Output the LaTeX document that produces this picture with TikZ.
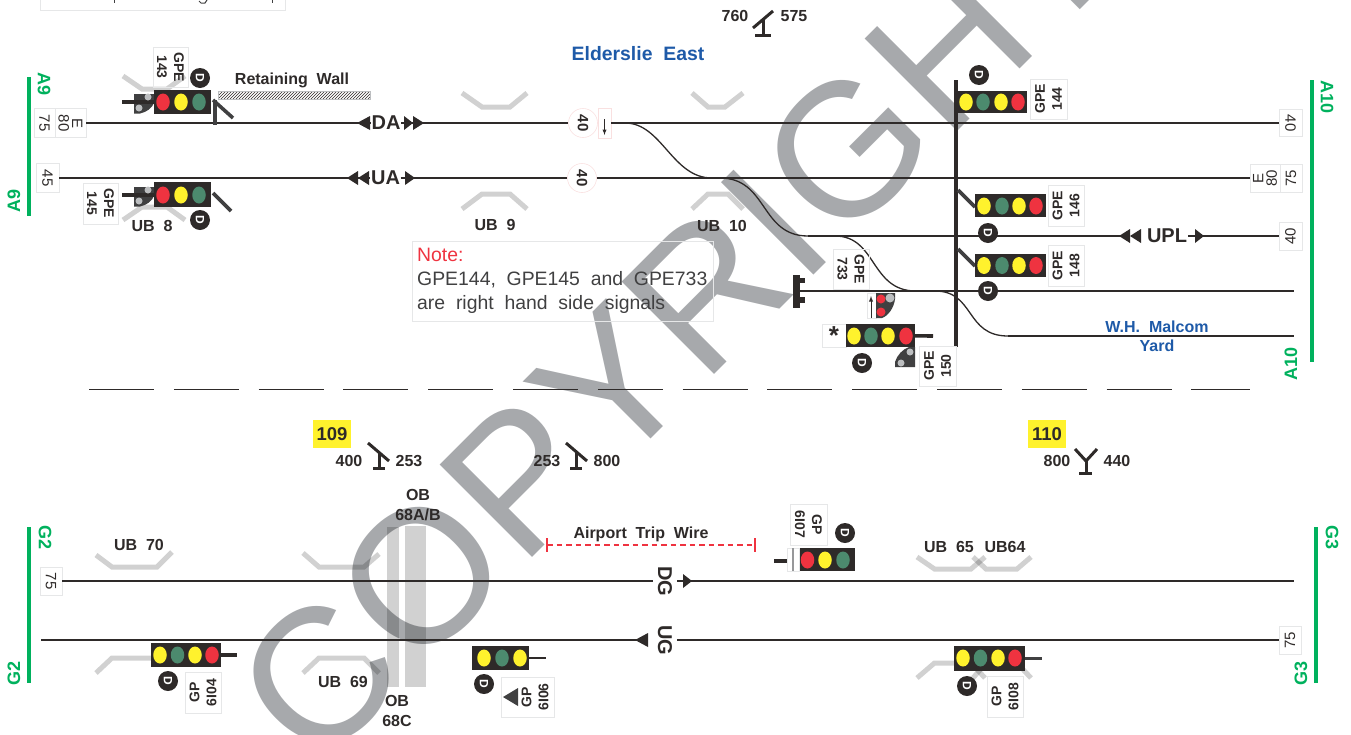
\documentclass[tikz,border=0pt]{standalone}
\usepackage{fontspec}
\setmainfont[WordSpace=2]{Liberation Sans}
\newfontfamily\wmfont[LetterSpace=1.1]{Liberation Sans}
\usetikzlibrary{shapes.geometric,patterns}
\definecolor{inkblk}{HTML}{2E2A29}
\definecolor{inkgrey}{HTML}{404041}
\definecolor{wmgrey}{HTML}{A7A9AC}
\definecolor{taggrey}{HTML}{E6E7E8}
\definecolor{dotgrey}{HTML}{BCBEC0}
\definecolor{kmgreen}{HTML}{00B15D}
\definecolor{kmblue}{HTML}{1E5AA8}
\definecolor{kmred}{HTML}{EF3340}
\definecolor{kmyellow}{HTML}{FFF22D}
\definecolor{kmlamp}{HTML}{4C8A6E}
\definecolor{kmpink}{HTML}{F9E0E0}
\begin{document}
\begin{tikzpicture}[x=1pt,y=-1pt,
	track/.style={draw=inkblk,line width=1.3pt},
	tag/.style={draw=taggrey,line width=0.8pt,inner sep=0pt,align=center,text=inkblk,font=\bfseries\fontsize{14}{17}\selectfont},
	numtag/.style={draw=taggrey,line width=0.8pt,inner sep=0pt,align=center,text=inkblk,font=\fontsize{15}{13.5}\selectfont},
	sighead/.style={fill=inkblk,inner sep=0pt},
	redlamp/.style={ellipse,fill=kmred,minimum width=13.5pt,minimum height=17pt,inner sep=0pt},
	yellamp/.style={ellipse,fill=kmyellow,minimum width=13.5pt,minimum height=17pt,inner sep=0pt},
	grnlamp/.style={ellipse,fill=kmlamp,minimum width=13.5pt,minimum height=17pt,inner sep=0pt},
	greydot/.style={circle,fill=dotgrey,minimum size=7pt,inner sep=0pt},
	reddot/.style={circle,fill=kmred,minimum size=9pt,inner sep=0pt},
	dcirc/.style={circle,fill=inkblk,text=white,minimum size=20pt,inner sep=0pt,rotate=-90,font=\bfseries\fontsize{12}{12}\selectfont},
	lbl/.style={inner sep=0pt,text=inkblk,font=\bfseries\fontsize{16}{20}\selectfont,align=center},
	biglbl/.style={inner sep=0pt,text=inkblk,font=\bfseries\fontsize{20}{20}\selectfont},
	grnlbl/.style={inner sep=0pt,text=kmgreen,font=\bfseries\fontsize{18}{18}\selectfont},
	bluelbl/.style={inner sep=0pt,text=kmblue,font=\bfseries\fontsize{16}{19}\selectfont,align=center},
	notetxt/.style={inner sep=0pt,anchor=west,text=inkgrey,font=\fontsize{19.4}{19.4}\selectfont},
	stub/.style={draw=inkblk,line width=3.6pt},
	post/.style={draw=inkgrey,line width=3.6pt},
	ubmark/.style={draw=black,draw opacity=0.18,line width=5pt},
	grad/.style={draw=inkblk,line width=3pt},
	limit/.style={draw=kmgreen,line width=3.8pt}]
	\useasboundingbox (0,0) rectangle (1351,734);

	\node (wm) at (676,321) [rotate=45,inner sep=0pt,text=wmgrey,font=\wmfont\fontsize{190}{190}\selectfont] {COPYRIGHT};

	\node (ob1) at (393,607) [fill=black,fill opacity=0.18,minimum width=12pt,minimum height=160pt,inner sep=0pt] {};
	\node (ob2) at (415.5,606.5) [fill=black,fill opacity=0.18,minimum width=21pt,minimum height=161pt,inner sep=0pt] {};

	\node (topbox) at (162.5,0) [draw=taggrey,line width=0.8pt,minimum width=245pt,minimum height=21pt,inner sep=0pt] {};
	\draw[inkgrey,line width=1pt] (114,0)--(114,3);
	\draw[inkgrey,line width=1pt] (272,0)--(272,3);
	\draw[inkgrey,line width=1pt] (199,1)--(201,3)--(205,3)--(207,0);

	\draw[limit] (29,77)--(29,216);
	\draw[limit] (1312,80)--(1312,362);
	\draw[limit] (29,527)--(29,683);
	\draw[limit] (1316,527)--(1316,683);
	\node (a9a) at (44,84) [grnlbl,rotate=-90] {A9};
	\node (a9b) at (14,201) [grnlbl,rotate=90] {A9};
	\node (a10a) at (1327,97) [grnlbl,rotate=-90] {A10};
	\node (a10b) at (1291,364) [grnlbl,rotate=90] {A10};
	\node (g2a) at (45,537) [grnlbl,rotate=-90] {G2};
	\node (g2b) at (14,673) [grnlbl,rotate=90] {G2};
	\node (g3a) at (1332,537) [grnlbl,rotate=-90] {G3};
	\node (g3b) at (1301,673) [grnlbl,rotate=90] {G3};

	\node (s75a) at (44.5,123) [numtag,rotate=-90,minimum width=29pt,minimum height=21pt] {75};
	\node (e80a) at (70.5,123) [numtag,rotate=-90,minimum width=29pt,minimum height=31pt] {E\\80};
	\node (s45) at (47.5,178) [numtag,rotate=-90,minimum width=29pt,minimum height=23pt] {45};
	\node (s40a) at (1290.5,123) [numtag,rotate=-90,minimum width=27pt,minimum height=23pt] {40};
	\node (e80b) at (1265,178) [numtag,rotate=90,minimum width=28pt,minimum height=30pt] {E\\80};
	\node (s75b) at (1291,178) [numtag,rotate=90,minimum width=28pt,minimum height=22pt] {75};
	\node (s40b) at (1290.5,236) [numtag,rotate=90,minimum width=28pt,minimum height=23pt] {40};
	\node (s75c) at (51,581) [numtag,rotate=-90,minimum width=28pt,minimum height=22pt] {75};
	\node (s75d) at (1290,640) [numtag,rotate=90,minimum width=28pt,minimum height=22pt] {75};

	\node (cir40a) at (583,123) [circle,draw=kmpink,line width=0.6pt,minimum size=29pt,inner sep=0pt,rotate=-90,text=inkblk,font=\bfseries\fontsize{15}{15}\selectfont] {40};
	\node (cir40b) at (582,178) [circle,draw=kmpink,line width=0.6pt,minimum size=29pt,inner sep=0pt,rotate=-90,text=inkblk,font=\bfseries\fontsize{15}{15}\selectfont] {40};
	\node (arrbox) at (604.5,123) [draw=kmpink,line width=0.6pt,minimum width=13pt,minimum height=30pt,inner sep=0pt] {};
	\draw[inkblk,line width=0.9pt,-latex] (604.5,119)--(604.5,135);

	\node (da) at (386,123) [biglbl,minimum width=30pt] {DA};
	\node (ua) at (385.5,178) [biglbl,minimum width=30pt] {UA};
	\node (upl) at (1167,236) [biglbl,minimum width=42pt] {UPL};
	\node (dg) at (665,581) [biglbl,rotate=-90,minimum height=24pt] {DG};
	\node (ug) at (665,640) [biglbl,rotate=-90,minimum height=24pt] {UG};
	\coordinate (uplw) at (1125,236);
	\coordinate (sp1) at (808,236);
	\coordinate (buf) at (800,291);
	\coordinate (end291) at (1294,291);
	\coordinate (yd) at (1008,336);
	\coordinate (end336) at (1294,336);
	\coordinate (dgr) at (692,581);
	\coordinate (end581) at (1294,581);
	\coordinate (ugw) at (41,640);
	\coordinate (ugm) at (640,640);
	\coordinate (x1a) at (625,123);
	\coordinate (x1b) at (712,178);
	\coordinate (x2a) at (720,178);
	\coordinate (x3a) at (835,236);
	\coordinate (x3b) at (916,291);
	\coordinate (x4a) at (935,291);

	\draw[track] (e80a)--(da);
	\draw[track] (da)--(cir40a);
	\draw[track] (arrbox)--(s40a);
	\draw[track] (s45)--(ua);
	\draw[track] (ua)--(cir40b);
	\draw[track] (cir40b)--(e80b);
	\draw[track] (sp1)--(uplw);
	\draw[track] (upl)--(s40b);
	\draw[track] (buf)--(end291);
	\draw[track] (yd)--(end336);
	\draw[track] (s75c)--(dg);
	\draw[track] (dg)--(dgr);
	\draw[track] (dgr)--(end581);
	\draw[track] (ugw)--(ugm);
	\draw[track] (ug)--(s75d);
	\draw[track] (x1a) .. controls (662,123) and (672,178) .. (x1b);
	\draw[track] (x2a) .. controls (768,178) and (760,236) .. (sp1);
	\draw[track] (x3a) .. controls (877,236) and (870,291) .. (x3b);
	\draw[track] (x4a) .. controls (975,291) and (965,336) .. (yd);

	\fill[inkblk] (370,116)--(357,123)--(370,130)--cycle;
	\fill[inkblk] (404,116)--(413,123)--(404,130)--cycle;
	\fill[inkblk] (413,116)--(424,123)--(413,130)--cycle;
	\fill[inkblk] (358,171)--(347,178)--(358,185)--cycle;
	\fill[inkblk] (369,171)--(358,178)--(369,185)--cycle;
	\fill[inkblk] (405,171)--(415,178)--(405,185)--cycle;
	\fill[inkblk] (1130,229)--(1119,236)--(1130,243)--cycle;
	\fill[inkblk] (1141,229)--(1130,236)--(1141,243)--cycle;
	\fill[inkblk] (1195,229)--(1204,236)--(1195,243)--cycle;
	\fill[inkblk] (683,574)--(692,581)--(683,588)--cycle;
	\fill[inkblk] (648,633)--(635,640)--(648,647)--cycle;

	\draw[ubmark] (123,76)--(142,89)--(167,89)--(185,76);
	\draw[ubmark] (123,220)--(142,207)--(167,207)--(185,220);
	\draw[ubmark] (462,93)--(482,107)--(510,107)--(527,93);
	\draw[ubmark] (462,209)--(482,194)--(510,194)--(527,209);
	\draw[ubmark] (692,93)--(708,107)--(725,107)--(743,93);
	\draw[ubmark] (692,209)--(708,194)--(728,194)--(743,209);
	\draw[ubmark] (96,555)--(112,567)--(157,567)--(172,552);
	\draw[ubmark] (303,553)--(319,567)--(364,567)--(379,554);
	\draw[ubmark] (96,673)--(112,658)--(157,658);
	\draw[ubmark] (303,673)--(319,658)--(364,658)--(379,673);
	\draw[ubmark] (917,557)--(934.5,569)--(971,569)--(985,557);
	\draw[ubmark] (973,557)--(986,569)--(1017,569)--(1031,557);
	\draw[ubmark] (917,678)--(934.5,663)--(971,663)--(985,678);
	\draw[ubmark] (973,678)--(986,663)--(1017,663)--(1031,678);

	\node (ub8) at (152,226) [lbl] {UB 8};
	\node (ub9) at (495,225) [lbl] {UB 9};
	\node (ub10) at (722,226) [lbl] {UB 10};
	\node (ub70) at (139,545) [lbl] {UB 70};
	\node (ub69) at (343,682) [lbl] {UB 69};
	\node (ub65) at (949,547) [lbl] {UB 65};
	\node (ub64) at (1005,547) [lbl] {UB64};
	\node (oba) at (418,505) [lbl] {OB\\68A/B};
	\node (obc) at (397,711) [lbl] {OB\\68C};
	\node (wall) at (292,80) [lbl] {Retaining Wall};
	\node (trip) at (641,534) [lbl] {Airport Trip Wire};
	\node (elder) at (638,54) [bluelbl,font=\bfseries\fontsize{19.4}{19.4}\selectfont] {Elderslie East};
	\node (yard) at (1157,336.5) [bluelbl] {W.H. Malcom\\Yard};

	\node (hatch) at (294,95) [draw=dotgrey,line width=0.8pt,pattern=north east lines,pattern color=inkblk,minimum width=152pt,minimum height=8pt,inner sep=0pt] {};

	\coordinate (tw1) at (547,545);
	\coordinate (tw2) at (755,545);
	\draw[kmred,line width=1.4pt,dash pattern=on 5.5pt off 4pt] (tw1)--(tw2);
	\draw[kmred,line width=2.2pt] (547,538)--(547,552);
	\draw[kmred,line width=2.2pt] (755,538)--(755,552);

	\coordinate (dv1) at (89,389.5);
	\coordinate (dv2) at (1250,389.5);
	\draw[inkblk,line width=1.2pt,dash pattern=on 65pt off 19.8pt] (dv1)--(dv2);

	\node (y109) at (332,434) [fill=kmyellow,minimum width=38pt,minimum height=28pt,inner sep=0pt,font=\bfseries\fontsize{18.5}{18.5}\selectfont,text=inkblk] {109};
	\node (y110) at (1047,434) [fill=kmyellow,minimum width=38pt,minimum height=28pt,inner sep=0pt,font=\bfseries\fontsize{18.5}{18.5}\selectfont,text=inkblk] {110};
	\node (k760) at (735,16) [lbl] {760};
	\node (k575) at (794,16) [lbl] {575};
	\node (k400) at (349,461) [lbl] {400};
	\node (k253a) at (409,461) [lbl] {253};
	\node (k253b) at (547,461) [lbl] {253};
	\node (k800a) at (607,461) [lbl] {800};
	\node (k800b) at (1057,461) [lbl] {800};
	\node (k440) at (1117,461) [lbl] {440};
	\draw[grad] (753,28)--(773,11);
	\draw[grad] (763,20)--(763,35);
	\draw[grad] (755,35)--(771,35);
	\draw[grad] (368,443)--(389,461);
	\draw[grad] (379,452)--(379,468);
	\draw[grad] (373,468)--(385,468);
	\draw[grad] (566,443)--(587,461);
	\draw[grad] (576,452)--(576,468);
	\draw[grad] (570,468)--(582,468);
	\draw[grad] (1075,449)--(1086,461)--(1097,449);
	\draw[grad] (1086,461)--(1086,473);
	\draw[grad] (1079,473)--(1092,473);

	\node (notebox) at (562.5,281) [draw=taggrey,line width=0.8pt,minimum width=301pt,minimum height=80pt,inner sep=0pt] {};
	\node (note1) at (417,255) [notetxt,text=kmred] {Note:};
	\node (note2) at (417,280) [notetxt] {GPE144, GPE145 and GPE733};
	\node (note3) at (417,304) [notetxt] {are right hand side signals};

	\coordinate (st143) at (122,102);
	\fill[inkgrey] (154,94)--(134,94)--(134,113.5)--(140,113.5) .. controls (147,112) and (152,108) .. (154,103)--cycle;
	\draw[stub] (st143)--(154,102);
	\node (dot143a) at (148,97) [greydot] {};
	\node (dot143b) at (139,108) [greydot] {};
	\node (h143) at (182.5,102) [sighead,minimum width=57pt,minimum height=24pt] {};
	\node (la1) at (163,102) [redlamp] {};
	\node (la2) at (181,102) [yellamp] {};
	\node (la3) at (199,102) [grnlamp] {};
	\draw[post] (213,100)--(233,118);
	\draw[post] (215,100)--(215,125);
	\node (d143) at (200,78) [dcirc] {D};
	\node (t143) at (170.5,67) [tag,rotate=-90,minimum width=40pt,minimum height=35pt] {GPE\\143};

	\coordinate (st145) at (122,195);
	\fill[inkgrey] (154,187)--(134,187)--(134,206.5)--(140,206.5) .. controls (147,205) and (152,201) .. (154,196)--cycle;
	\draw[stub] (st145)--(154,195);
	\node (dot145a) at (148,190) [greydot] {};
	\node (dot145b) at (139,201) [greydot] {};
	\node (h145) at (182.5,194.5) [sighead,minimum width=57pt,minimum height=25pt] {};
	\node (lb1) at (163,195) [redlamp] {};
	\node (lb2) at (181,195) [yellamp] {};
	\node (lb3) at (199,195) [grnlamp] {};
	\draw[post] (213,193)--(231,211);
	\node (d145) at (200,220) [dcirc] {D};
	\node (t145) at (100.5,203.5) [tag,rotate=-90,minimum width=41pt,minimum height=35pt] {GPE\\145};

	\draw[draw=inkblk,line width=4.5pt] (956,80)--(956,347);

	\node (h144) at (992.5,102) [sighead,minimum width=69pt,minimum height=22pt] {};
	\node (lc1) at (966,102) [yellamp] {};
	\node (lc2) at (983,102) [grnlamp] {};
	\node (lc3) at (1001,102) [yellamp] {};
	\node (lc4) at (1018,102) [redlamp] {};
	\node (d144) at (979,75) [dcirc] {D};
	\node (t144) at (1048.5,99) [tag,rotate=90,minimum width=40pt,minimum height=37pt] {GPE\\144};

	\draw[post] (958,190)--(975,207);
	\node (h146) at (1010.5,205.5) [sighead,minimum width=71pt,minimum height=23pt] {};
	\node (ld1) at (984,206) [yellamp] {};
	\node (ld2) at (1002,206) [grnlamp] {};
	\node (ld3) at (1019,206) [yellamp] {};
	\node (ld4) at (1036,206) [redlamp] {};
	\node (d146) at (988,233) [dcirc] {D};
	\node (t146) at (1066,205.5) [tag,rotate=90,minimum width=41pt,minimum height=36pt] {GPE\\146};

	\draw[post] (958,249)--(975,266);
	\node (h148) at (1010.5,265.5) [sighead,minimum width=71pt,minimum height=23pt] {};
	\node (le1) at (984,265.5) [yellamp] {};
	\node (le2) at (1002,265.5) [grnlamp] {};
	\node (le3) at (1019,265.5) [yellamp] {};
	\node (le4) at (1036,265.5) [redlamp] {};
	\node (d148) at (988,291) [dcirc] {D};
	\node (t148) at (1066,265.5) [tag,rotate=90,minimum width=41pt,minimum height=36pt] {GPE\\148};

	\node (t733) at (851,269) [tag,rotate=-90,minimum width=40pt,minimum height=36pt] {GPE\\733};
	\fill[inkblk] (793,275) rectangle (800,308);
	\fill[inkblk] (800,278) rectangle (805,283);
	\fill[inkblk] (800,297) rectangle (805,303);
	\node (arr733) at (871.5,305.5) [draw=taggrey,line width=0.6pt,minimum width=9pt,minimum height=25pt,inner sep=0pt] {};
	\draw[inkblk,line width=0.9pt,-latex] (871,318)--(871,296);
	\fill[inkgrey] (876,293)--(895,293)--(895,299) .. controls (894,308) and (888,316) .. (882,318)--(876,318)--cycle;
	\node (dot733a) at (881,299) [reddot] {};
	\node (dot733b) at (890,298) [reddot,fill=dotgrey] {};
	\node (dot733c) at (881,312) [reddot] {};

	\node (star) at (834,335.5) [draw=taggrey,line width=0.6pt,minimum width=24pt,minimum height=23pt,inner sep=0pt,text=inkblk,font=\bfseries\fontsize{26}{26}\selectfont] {\raisebox{-6pt}{*}};
	\coordinate (st150) at (933,336);
	\node (h150) at (880.5,335.5) [sighead,minimum width=69pt,minimum height=23pt] {};
	\draw[stub] (h150)--(st150);
	\node (lf1) at (854,336) [yellamp] {};
	\node (lf2) at (871,336) [grnlamp] {};
	\node (lf3) at (888,336) [yellamp] {};
	\node (lf4) at (906,336) [redlamp] {};
	\fill[inkgrey] (915,347)--(915,367)--(895,367)--(895,362) .. controls (897,355) and (903,349) .. (909,347)--cycle;
	\node (dot150a) at (910,352) [greydot] {};
	\node (dot150b) at (901,363) [greydot] {};
	\node (d150) at (862,363) [dcirc] {D};
	\node (t150) at (937.5,366) [tag,rotate=90,minimum width=40pt,minimum height=37pt] {GPE\\150};

	\coordinate (st104) at (237,655);
	\node (h104) at (186,655) [sighead,minimum width=70pt,minimum height=24pt] {};
	\draw[stub] (h104)--(st104);
	\node (lg1) at (160,655) [yellamp] {};
	\node (lg2) at (177.5,655) [grnlamp] {};
	\node (lg3) at (195,655) [yellamp] {};
	\node (lg4) at (212,655) [redlamp] {};
	\node (d104) at (168,681) [dcirc] {D};
	\node (t104) at (203,692.5) [tag,rotate=90,minimum width=41pt,minimum height=36pt] {GP\\6I04};

	\coordinate (st106) at (546,658);
	\node (h106) at (500.5,658) [sighead,minimum width=57pt,minimum height=24pt] {};
	\draw[stub,line width=2.4pt] (h106)--(st106);
	\node (lh1) at (484,658) [yellamp] {};
	\node (lh2) at (502,658) [grnlamp] {};
	\node (lh3) at (520,658) [yellamp] {};
	\node (d106) at (484,684) [dcirc] {D};
	\node (t106) at (527.5,697) [draw=taggrey,line width=0.8pt,minimum width=53pt,minimum height=40pt,inner sep=0pt] {};
	\fill[inkgrey] (518,688)--(503,697)--(518,706)--cycle;
	\node (t106b) at (535,697) [tag,draw=none,rotate=90] {GP\\6I06};

	\node (h107) at (827,559.5) [sighead,minimum width=56pt,minimum height=23pt] {};
	\node (bk107) at (793,559.5) [draw=taggrey,line width=0.6pt,minimum width=12pt,minimum height=23pt,inner sep=0pt] {};
	\draw[dotgrey!70!inkgrey,line width=1.2pt] (793,548)--(793,571);
	\coordinate (st107) at (774,561);
	\coordinate (st107b) at (787,561);
	\draw[stub,line width=4pt] (st107)--(st107b);
	\node (li1) at (807.5,560) [redlamp] {};
	\node (li2) at (825,560) [yellamp] {};
	\node (li3) at (843,560) [grnlamp] {};
	\node (d107) at (845,533) [dcirc] {D};
	\node (t107) at (808.5,524.5) [tag,rotate=-90,minimum width=41pt,minimum height=37pt] {GP\\6I07};

	\coordinate (st108) at (1042,658.5);
	\node (h108) at (989.5,658.5) [sighead,minimum width=71pt,minimum height=25pt] {};
	\draw[stub,draw=inkgrey,line width=3.4pt] (h108)--(st108);
	\node (lj1) at (963,658) [yellamp] {};
	\node (lj2) at (980.5,658) [grnlamp] {};
	\node (lj3) at (998,658) [yellamp] {};
	\node (lj4) at (1015,658) [redlamp] {};
	\node (d108) at (967,686) [dcirc] {D};
	\node (t108) at (1005,696.5) [tag,rotate=90,minimum width=41pt,minimum height=36pt] {GP\\6I08};
\end{tikzpicture}
\end{document}
